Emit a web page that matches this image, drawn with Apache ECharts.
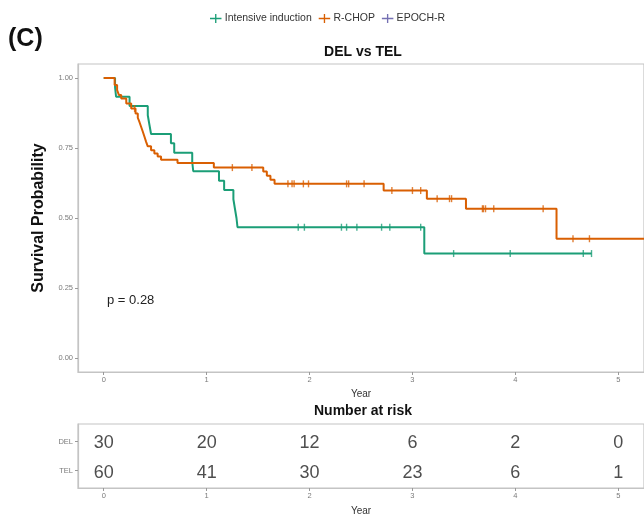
<!DOCTYPE html>
<html><head><meta charset="utf-8">
<script src="https://cdn.jsdelivr.net/npm/echarts@6/dist/echarts.min.js"></script>
<style>html,body{margin:0;padding:0;background:#fff}#c{width:644px;height:517px}</style>
</head><body><div id="c"></div>
<script>
// ---- data ----
const legendNames = ['Intensive induction', 'R-CHOP', 'EPOCH-R'];
const seriesColors = ['#1B9E77', '#D95F02', '#7570B3'];

// DEL (Intensive induction): event times and survival after each event
const delTimes = [0, 0.11, 0.12, 0.251, 0.428, 0.444, 0.46, 0.653, 0.685, 0.86, 0.87, 1.12, 1.17, 1.26, 1.275, 1.29, 1.30, 3.115, 4.74];
const delSurv  = [1, 0.967, 0.933, 0.90, 0.867, 0.833, 0.80, 0.767, 0.733, 0.70, 0.667, 0.633, 0.60, 0.567, 0.533, 0.50, 0.467, 0.373, 0.373];
const delCensor = [1.89, 1.95, 2.31, 2.36, 2.46, 2.70, 2.78, 3.08, 3.40, 3.95, 4.66, 4.74];

// TEL (R-CHOP)
const telTimes = [0, 0.106, 0.13, 0.148, 0.17, 0.219, 0.267, 0.309, 0.331, 0.347, 0.364, 0.38, 0.396, 0.412, 0.428, 0.46, 0.492, 0.524, 0.557, 0.717, 1.07, 1.55, 1.585, 1.62, 1.66, 2.72, 3.14, 3.52, 4.40, 5.25];
const telSurv  = [1, 0.975, 0.957, 0.939, 0.927, 0.909, 0.891, 0.873, 0.858, 0.843, 0.825, 0.808, 0.79, 0.772, 0.756, 0.742, 0.73, 0.72, 0.708, 0.696, 0.68, 0.666, 0.651, 0.637, 0.622, 0.598, 0.569, 0.533, 0.426, 0.426];
const telCensor = [0.30, 1.25, 1.44, 1.79, 1.83, 1.85, 1.94, 1.99, 2.36, 2.38, 2.53, 2.80, 3.00, 3.08, 3.24, 3.36, 3.38, 3.68, 3.69, 3.71, 3.79, 4.27, 4.56, 4.72];

const riskYears = [0, 1, 2, 3, 4, 5];
const riskRows = ['DEL', 'TEL'];
const delRisk = [30, 20, 12, 6, 2, 0];
const telRisk = [60, 41, 30, 23, 6, 1];

const xTicks = [0, 1, 2, 3, 4, 5];
const yTicks = [0, 0.25, 0.5, 0.75, 1];
const pText = 'p = 0.28';

// ---- helpers ----
function survAt(times, surv, t) {
  let v = surv[0];
  for (let i = 0; i < times.length; i++) { if (times[i] <= t) v = surv[i]; }
  return v;
}
const pairs = (a, b) => a.map((t, i) => [t, b[i]]);
const censorPts = (c, times, surv) => c.map(t => [t, survAt(times, surv, t)]);

const FONT = 'Liberation Sans, Arial, Helvetica, sans-serif';
const axisGray = '#c4c4c4';
const labelGray = '#7a7a7a';
const legendIcon = 'path://M0,4L12,4L12,5.4L0,5.4Z M5.3,0L6.7,0L6.7,9.4L5.3,9.4Z';

const chart = echarts.init(document.getElementById('c'), null, {renderer: 'canvas'});

function xAxisFor(gridIndex, gap) {
  return {
    gridIndex: gridIndex,
    type: 'value', min: -0.25, max: 5.25,
    axisLine: {show: true, onZero: false, lineStyle: {color: axisGray, width: 1.2}},
    axisTick: {show: true, customValues: xTicks, length: 3, lineStyle: {color: '#999'}},
    axisLabel: {show: true, customValues: xTicks, fontSize: 7.5, color: labelGray, fontFamily: FONT, margin: 4},
    splitLine: {show: false},
    name: 'Year', nameLocation: 'middle', nameGap: gap,
    nameTextStyle: {fontSize: 10, color: '#333', fontFamily: FONT}
  };
}

const option = {
  animation: false,
  backgroundColor: '#fff',
  textStyle: {fontFamily: FONT},
  legend: {
    left: 205, top: 8, itemGap: 7, itemWidth: 12, itemHeight: 9,
    textStyle: {fontSize: 10.5, color: '#333', fontFamily: FONT, padding: [0, 0, 0, -2]},
    data: legendNames.map((n, i) => ({name: n, icon: legendIcon, itemStyle: {color: seriesColors[i]}}))
  },
  grid: [
    {left: 78, top: 64, width: 570, height: 308, show: true, borderColor: axisGray, borderWidth: 1.2, backgroundColor: '#fff'},
    {left: 78, top: 424, width: 570, height: 67, show: true, borderColor: axisGray, borderWidth: 1.2, backgroundColor: '#fff'}
  ],
  xAxis: [xAxisFor(0, 15), xAxisFor(1, 18)],
  yAxis: [
    {
      gridIndex: 0, type: 'value', min: -0.05, max: 1.05,
      axisLine: {show: true, onZero: false, lineStyle: {color: axisGray, width: 1.2}},
      axisTick: {show: true, customValues: yTicks, length: 3, lineStyle: {color: '#999'}},
      axisLabel: {show: true, customValues: yTicks, fontSize: 7.5, color: labelGray, fontFamily: FONT, margin: 5,
        formatter: v => Number(v).toFixed(2)},
      splitLine: {show: false},
      name: 'Survival Probability', nameLocation: 'middle', nameGap: 31, nameRotate: 90,
      nameTextStyle: {fontSize: 16, fontWeight: 'bold', color: '#111', fontFamily: FONT}
    },
    {
      gridIndex: 1, type: 'value', min: 0.4, max: 2.6,
      axisLine: {show: true, onZero: false, lineStyle: {color: axisGray, width: 1.2}},
      axisTick: {show: true, customValues: [1, 2], length: 3, lineStyle: {color: '#999'}},
      axisLabel: {show: true, customValues: [1, 2], fontSize: 7.5, color: labelGray, fontFamily: FONT, margin: 5,
        formatter: v => (Math.round(v) === 2 ? riskRows[0] : riskRows[1])},
      splitLine: {show: false}
    }
  ],
  graphic: [
    {type: 'text', x: 8, y: 39, style: {text: '(C)', font: 'bold 25px ' + FONT, fill: '#111', align: 'left', verticalAlign: 'middle', textAlign: 'left', textVerticalAlign: 'middle'}},
    {type: 'text', x: 363, y: 52, style: {text: 'DEL vs TEL', font: 'bold 14px ' + FONT, fill: '#111', align: 'center', verticalAlign: 'middle', textAlign: 'center', textVerticalAlign: 'middle'}},
    {type: 'text', x: 363, y: 411, style: {text: 'Number at risk', font: 'bold 14px ' + FONT, fill: '#111', align: 'center', verticalAlign: 'middle', textAlign: 'center', textVerticalAlign: 'middle'}},
    {type: 'text', x: 107, y: 300, style: {text: pText, font: '13px ' + FONT, fill: '#222', align: 'left', verticalAlign: 'middle', textAlign: 'left', textVerticalAlign: 'middle'}}
  ],
  series: [
    {name: legendNames[0], type: 'line', xAxisIndex: 0, yAxisIndex: 0, step: 'end', showSymbol: false,
      data: pairs(delTimes, delSurv), lineStyle: {color: seriesColors[0], width: 2}, itemStyle: {color: seriesColors[0]}, z: 3},
    {name: legendNames[1], type: 'line', xAxisIndex: 0, yAxisIndex: 0, step: 'end', showSymbol: false,
      data: pairs(telTimes, telSurv), lineStyle: {color: seriesColors[1], width: 2}, itemStyle: {color: seriesColors[1]}, z: 4},
    {name: legendNames[2], type: 'line', xAxisIndex: 0, yAxisIndex: 0, data: [],
      lineStyle: {color: seriesColors[2]}, itemStyle: {color: seriesColors[2]}},
    {type: 'scatter', xAxisIndex: 0, yAxisIndex: 0, symbol: 'rect', symbolSize: [1.4, 7],
      data: censorPts(delCensor, delTimes, delSurv), itemStyle: {color: seriesColors[0]}, z: 5, silent: true},
    {type: 'scatter', xAxisIndex: 0, yAxisIndex: 0, symbol: 'rect', symbolSize: [1.4, 7],
      data: censorPts(telCensor, telTimes, telSurv), itemStyle: {color: seriesColors[1]}, z: 6, silent: true},
    {type: 'scatter', xAxisIndex: 1, yAxisIndex: 1, symbolSize: 1, itemStyle: {color: 'rgba(0,0,0,0)'}, silent: true,
      data: riskYears.map((y, i) => [y, 2, delRisk[i]]).concat(riskYears.map((y, i) => [y, 1, telRisk[i]])),
      label: {show: true, position: 'inside', offset: [0, 2], formatter: p => String(p.value[2]), fontSize: 18, color: '#222', fontFamily: FONT}}
  ]
};
chart.setOption(option);
</script></body></html>
